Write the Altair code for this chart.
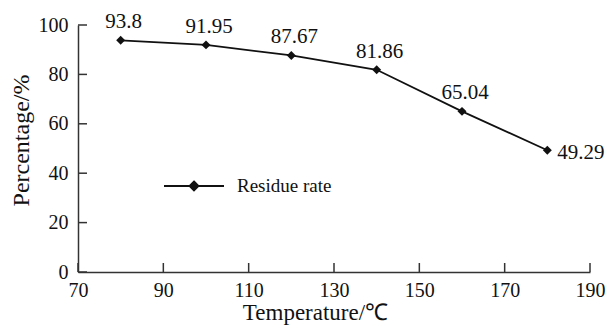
import altair as alt
import pandas as pd

temperature = [80, 100, 120, 140, 160, 180]
residue = [93.8, 91.95, 87.67, 81.86, 65.04, 49.29]
value_labels = ["93.8", "91.95", "87.67", "81.86", "65.04", "49.29"]
series_name = "Residue rate"
x_ticks = [70, 90, 110, 130, 150, 170, 190]
y_ticks = [0, 20, 40, 60, 80, 100]

W, H = 512, 247
FONT = "Liberation Serif"
INK = "#111111"
AX = "#333333"

df = pd.DataFrame({"T": temperature, "R": residue, "label": value_labels,
                   "series": [series_name] * len(temperature)})

xscale = alt.Scale(domain=[70, 190], nice=False, zero=False)
yscale = alt.Scale(domain=[0, 100], nice=False)

x_axis = alt.Axis(values=x_ticks, ticks=False, grid=False, domainColor=AX, domainWidth=1.5,
                  labelFont=FONT, labelFontSize=20, labelColor=INK, labelPadding=8,
                  labelFlush=False, title="Temperature/℃", titleFont=FONT, titleFontSize=23,
                  titleFontWeight="normal", titleColor=INK, titlePadding=1,
                  titleX=237, titleAlign="center", titleAnchor="start")
y_axis = alt.Axis(values=y_ticks, ticks=False, grid=False, domainColor=AX, domainWidth=1.5,
                  labelFont=FONT, labelFontSize=20, labelColor=INK, labelPadding=10,
                  labelFlush=False, title="Percentage/%", titleFont=FONT, titleFontSize=24,
                  titleFontWeight="normal", titleColor=INK, titlePadding=5,
                  titleY=115, titleAlign="center", titleAnchor="start")

X = alt.X("T:Q", scale=xscale, axis=x_axis)
Y = alt.Y("R:Q", scale=yscale, axis=y_axis)

base = alt.Chart(df)

line = base.mark_line(color=INK, strokeWidth=1.8).encode(x=X, y=Y)

legend_path = "M-1,0L1,0M0,-0.15L0.15,0L0,0.15L-0.15,0Z"
points = base.mark_point(shape="diamond", filled=True, size=80, opacity=1).encode(
    x=X, y=Y,
    color=alt.Color("series:N", scale=alt.Scale(range=[INK]),
                    legend=alt.Legend(title=None, orient="none", legendX=85, legendY=130,
                                      symbolType=legend_path, symbolSize=3600,
                                      symbolFillColor=INK, symbolStrokeColor=INK,
                                      symbolStrokeWidth=1.8, symbolOpacity=1,
                                      labelFont=FONT, labelFontSize=19, labelColor=INK,
                                      labelOffset=12, padding=0)),
)

labels_main = base.transform_filter("datum.T < 180").mark_text(
    font=FONT, fontSize=21, color=INK, align="center", baseline="bottom", dx=3, dy=-8
).encode(x=X, y=Y, text="label:N")

labels_last = base.transform_filter("datum.T >= 180").mark_text(
    font=FONT, fontSize=21, color=INK, align="left", baseline="middle", dx=10, dy=3
).encode(x=X, y=Y, text="label:N")

xt = alt.Chart(pd.DataFrame({"T": x_ticks})).mark_rule(color=AX, strokeWidth=1.5).encode(
    x=X, y=alt.value(H), y2=alt.value(H - 9),
)
yt = alt.Chart(pd.DataFrame({"R": y_ticks})).mark_rule(color=AX, strokeWidth=1.5).encode(
    y=Y, x=alt.value(0), x2=alt.value(9),
)

chart = alt.layer(line, xt, yt, points, labels_main, labels_last).properties(
    width=W, height=H,
    autosize=alt.AutoSizeParams(type="none"),
    padding={"left": 78, "top": 25, "right": 24, "bottom": 57},
    background="white",
).configure_view(stroke=None)

chart.save("out.html", embed_options={"renderer": "svg", "actions": False})
